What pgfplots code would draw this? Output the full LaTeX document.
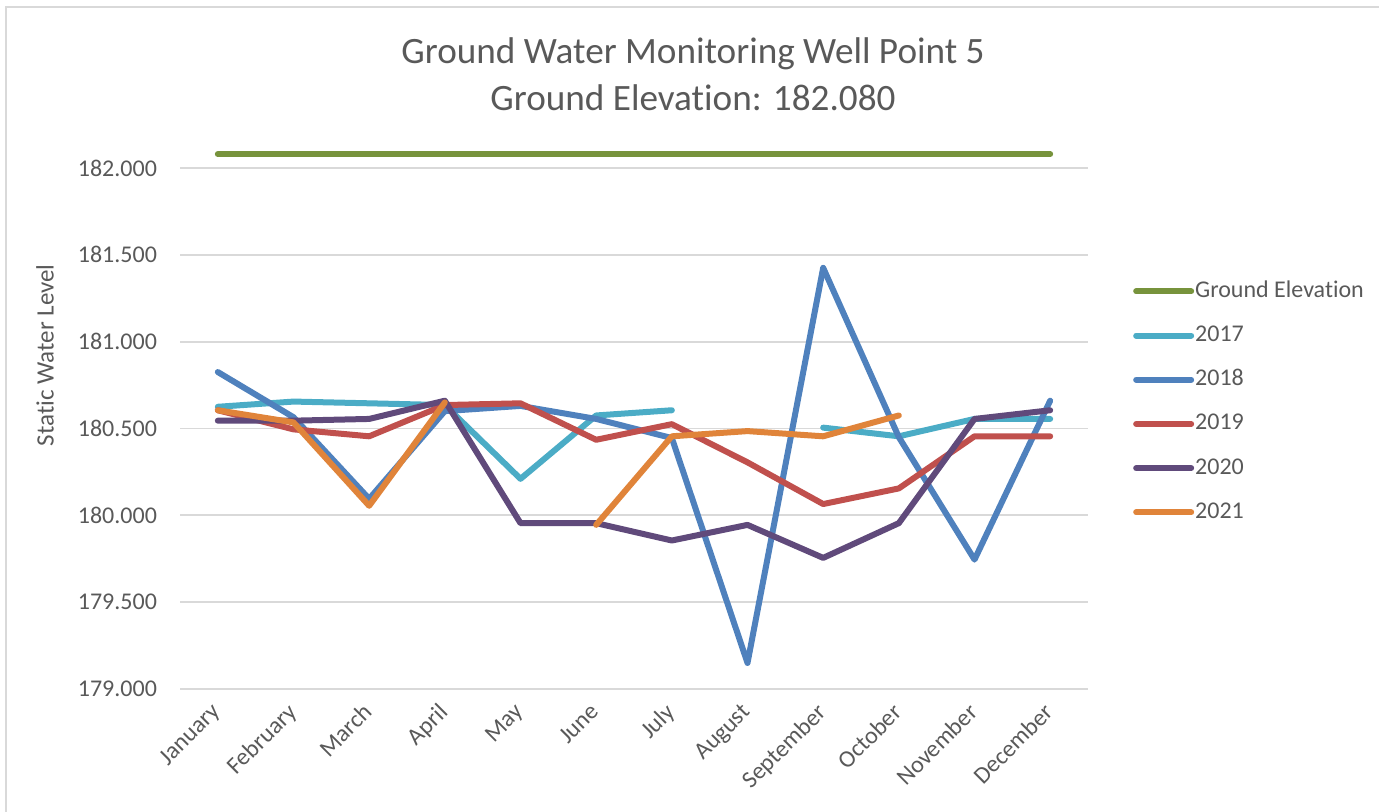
\documentclass[border=0pt]{standalone}
\usepackage{pgfplots}
\pgfplotsset{compat=1.18}
\usepackage{fontspec}
\setmainfont{Carlito}[Ligatures={NoCommon,NoRare,NoContextual}]
\definecolor{txt}{HTML}{595959}
\definecolor{gridc}{HTML}{D9D9D9}
\definecolor{cGround}{HTML}{77933C}
\definecolor{c2017}{HTML}{4BACC6}
\definecolor{c2018}{HTML}{4F81BD}
\definecolor{c2019}{HTML}{C0504D}
\definecolor{c2020}{HTML}{604A7B}
\definecolor{c2021}{HTML}{E0843A}
\begin{document}
\begin{tikzpicture}
\path[use as bounding box] (0,0) rectangle (689.5pt,405.5pt);
\draw[gridc, line width=1pt] (3pt,-20pt) -- (3pt,402pt) -- (700pt,402pt);
\node[align=center, text=txt, font=\fontsize{18.6}{23.5}\selectfont] at (346.5pt,368.5pt) {Ground Water Monitoring Well Point 5\\Ground Elevation: 182.080};
\begin{axis}[
  at={(90pt,61pt)}, anchor=south west,
  scale only axis, width=454pt, height=269.2pt,
  xmin=-0.5, xmax=11.5, ymin=179, ymax=182.1,
  clip=false,
  unbounded coords=jump,
  axis line style={draw=none},
  major tick length=0pt,
  xtick={0,...,11},
  xticklabels={January,February,March,April,May,June,July,August,September,October,November,December},
  xticklabel style={rotate=45, anchor=north east, font=\fontsize{12}{14}\selectfont, text=txt, xshift=-3.7pt, yshift=1.5pt},
  ytick={179,179.5,...,182},
  ymajorgrids,
  major grid style={draw=gridc, line width=0.9pt},
  yticklabel style={font=\fontsize{12}{14}\selectfont, text=txt, xshift=-8pt,
    /pgf/number format/.cd, fixed, fixed zerofill, precision=3, 1000 sep={}, assume math mode=true},
  ylabel={Static Water Level},
  ylabel style={at={(axis description cs:-0.1487,0.62)}, anchor=center, font=\fontsize{12.5}{15}\selectfont, text=txt},
  legend cell align=left,
  legend style={draw=none, fill=none, at={(axis description cs:1.0427,0.769)}, anchor=north west,
    font=\fontsize{12}{14}\selectfont, text=txt,
    nodes={text height=8.5pt, text depth=2.5pt, inner sep=0.5pt},
    row sep=10.1pt},
  legend image code/.code={\draw[#1, line width=3pt] (0pt,0pt) -- (27.5pt,0pt);},
  every axis plot/.append style={line width=3pt, line cap=round, line join=round, mark=none},
]
\addplot[cGround] coordinates {(0,182.08) (1,182.08) (2,182.08) (3,182.08) (4,182.08) (5,182.08) (6,182.08) (7,182.08) (8,182.08) (9,182.08) (10,182.08) (11,182.08)};
\addlegendentry{Ground Elevation}
\addplot[c2017] coordinates {(0,180.625) (1,180.655) (2,180.645) (3,180.635) (4,180.210) (5,180.575) (6,180.605) (7,nan) (8,180.505) (9,180.455) (10,180.555) (11,180.555)};
\addlegendentry{2017}
\addplot[c2018] coordinates {(0,180.825) (1,180.565) (2,180.095) (3,180.600) (4,180.630) (5,180.555) (6,180.445) (7,179.150) (8,181.425) (9,180.450) (10,179.745) (11,180.660)};
\addlegendentry{2018}
\addplot[c2019] coordinates {(0,180.605) (1,180.495) (2,180.455) (3,180.635) (4,180.645) (5,180.435) (6,180.525) (7,180.305) (8,180.065) (9,180.155) (10,180.455) (11,180.455)};
\addlegendentry{2019}
\addplot[c2020] coordinates {(0,180.545) (1,180.545) (2,180.555) (3,180.660) (4,179.955) (5,179.955) (6,179.855) (7,179.945) (8,179.755) (9,179.955) (10,180.555) (11,180.605)};
\addlegendentry{2020}
\addplot[c2021] coordinates {(0,180.605) (1,180.535) (2,180.055) (3,180.650) (4,nan) (5,179.945) (6,180.455) (7,180.485) (8,180.455) (9,180.575)};
\addlegendentry{2021}
\end{axis}
\end{tikzpicture}
\end{document}
